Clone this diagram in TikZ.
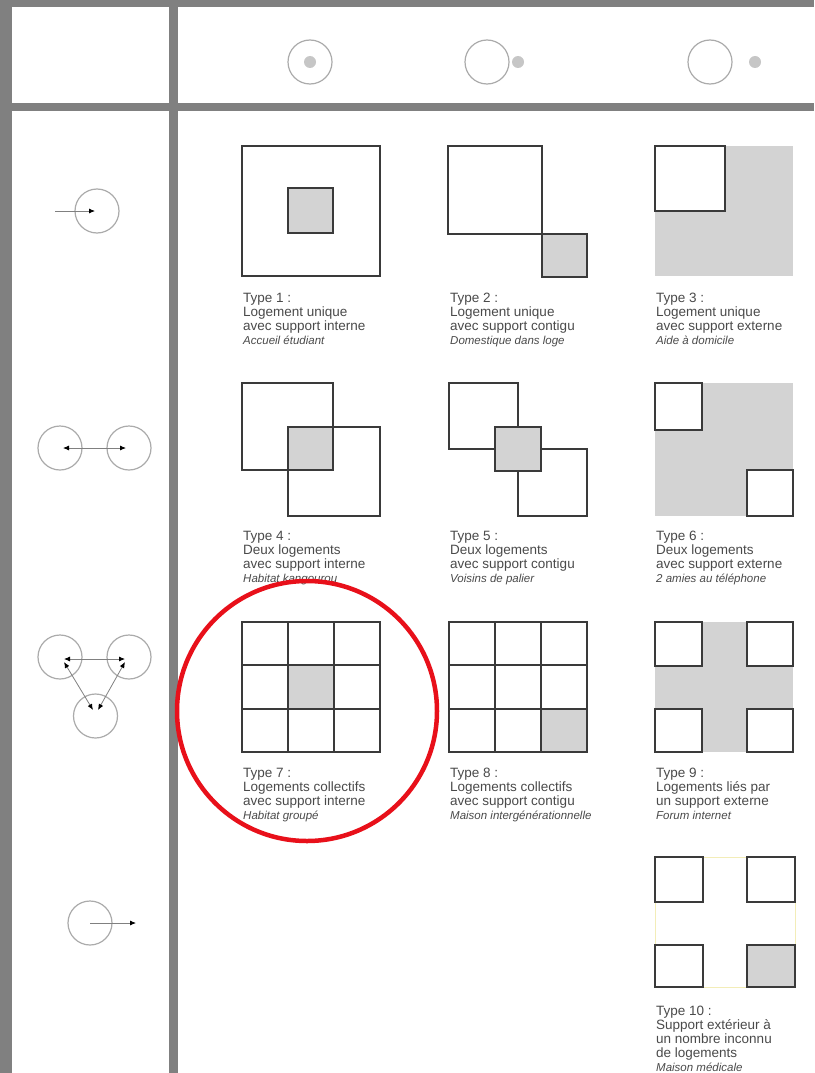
\documentclass[tikz,border=0pt]{standalone}
\usepackage{fontspec}
\newfontfamily\lab{Liberation Sans}
\usetikzlibrary{arrows.meta}
\definecolor{framegray}{HTML}{808080}
\definecolor{ink}{HTML}{3A3A3A}
\definecolor{lightfill}{HTML}{D3D3D3}
\definecolor{txt}{HTML}{4A4A4A}
\definecolor{ringgray}{HTML}{ABABAB}
\definecolor{dotgray}{HTML}{C6C6C6}
\definecolor{redmark}{HTML}{E8101A}
\definecolor{faint}{HTML}{F3EDB8}
\begin{document}
\begin{tikzpicture}[x=1pt,y=-1pt,
  sqbox/.style={draw=ink,line width=1.4pt},
  shbox/.style={draw=ink,fill=lightfill,line width=1.4pt},
  whitebox/.style={draw=ink,fill=white,line width=1.4pt},
  icon/.style={circle,draw=ringgray,line width=1.2pt,minimum size=44pt,inner sep=0pt},
  hdot/.style={circle,fill=dotgray,minimum size=12pt,inner sep=0pt},
  link/.style={draw=gray,line width=0.8pt},
  arrowend/.style={-{Latex[length=6pt,width=5pt,color=black]}},
  botharrow/.style={{Latex[length=6pt,width=5pt,color=black]}-{Latex[length=6pt,width=5pt,color=black]}},
  typetext/.style={anchor=north west,inner sep=0pt,align=left,text=txt,font=\lab\fontsize{13.5}{14}\selectfont},
]
\useasboundingbox (0,0) rectangle (814,1073);
\fill[white] (0,0) rectangle (814,1073);
% frame
\fill[framegray] (0,0) rectangle (814,7);
\fill[framegray] (0,0) rectangle (12,1073);
\fill[framegray] (169,0) rectangle (178,1073);
\fill[framegray] (0,103) rectangle (814,111);

% header icons
\node[icon] (h1) at (310,62) {};
\node[hdot] (d1) at (310,62) {};
\node[icon] (h2) at (487,62) {};
\node[hdot] (d2) at (518,62) {};
\node[icon] (h3) at (710,62) {};
\node[hdot] (d3) at (755,62) {};

% left icons
\node[icon] (s1) at (97,211) {};
\coordinate (s1in) at (55,211);
\coordinate (s1tip) at (95,211);
\draw[link,arrowend] (s1in) -- (s1tip);

\node[icon] (p1) at (60,448) {};
\node[icon] (p2) at (129,448) {};
\coordinate (p1e) at (63,448);
\coordinate (p2e) at (126,448);
\draw[link,botharrow] (p1e) -- (p2e);

\node[icon] (q1) at (60,657) {};
\node[icon] (q2) at (129,657) {};
\node[icon] (q3) at (95.5,716) {};
\coordinate (q1a) at (64,659);
\coordinate (q2a) at (125,659);
\coordinate (q1b) at (64,662);
\coordinate (q2b) at (125,662);
\coordinate (q3l) at (93,710);
\coordinate (q3r) at (98,710);
\draw[link,botharrow] (q1a) -- (q2a);
\draw[link,botharrow] (q1b) -- (q3l);
\draw[link,botharrow] (q2b) -- (q3r);

\node[icon] (o1) at (90,923) {};
\coordinate (o1out) at (136,923);
\draw[link,arrowend] (o1.center) -- (o1out);

% Type 1
\draw[sqbox] (242,146) rectangle (380,276);
\draw[shbox] (288,188) rectangle (333,233);
% Type 2
\draw[sqbox] (448,146) rectangle (542,234);
\draw[shbox] (542,234) rectangle (587,277);
% Type 3
\fill[lightfill] (655,146) rectangle (793,276);
\draw[whitebox] (655,146) rectangle (725,211);

% Type 4
\draw[sqbox] (242,383) rectangle (333,470);
\draw[sqbox] (288,427) rectangle (380,516);
\draw[shbox] (288,427) rectangle (333,470);
% Type 5
\draw[sqbox] (449,383) rectangle (518,449);
\draw[sqbox] (518,449) rectangle (587,516);
\draw[shbox] (495,427) rectangle (541,471);
% Type 6
\fill[lightfill] (655,383) rectangle (793,516);
\draw[whitebox] (655,383) rectangle (702,430);
\draw[whitebox] (747,470) rectangle (793,516);

% Type 7
\fill[lightfill] (288,665) rectangle (334,709);
\draw[sqbox] (242,622) rectangle (380,752);
\draw[sqbox] (288,622) -- (288,752) (334,622) -- (334,752)
             (242,665) -- (380,665) (242,709) -- (380,709);
% Type 8
\fill[lightfill] (541,709) rectangle (587,752);
\draw[sqbox] (449,622) rectangle (587,752);
\draw[sqbox] (495,622) -- (495,752) (541,622) -- (541,752)
             (449,665) -- (587,665) (449,709) -- (587,709);
% Type 9
\fill[lightfill] (655,622) rectangle (793,752);
\draw[whitebox] (655,622) rectangle (702,666);
\draw[whitebox] (747,622) rectangle (793,666);
\draw[whitebox] (655,709) rectangle (702,752);
\draw[whitebox] (747,709) rectangle (793,752);

% Type 10
\draw[faint,line width=0.6pt] (655,857) rectangle (795,987);
\draw[whitebox] (655,857) rectangle (703,902);
\draw[whitebox] (747,857) rectangle (795,902);
\draw[whitebox] (655,945) rectangle (703,987);
\draw[shbox] (747,945) rectangle (795,987);

% labels
\node[typetext] (l1) at (243,293) {Type 1 :\\Logement unique\\avec support interne\\{\fontsize{11.5}{14}\selectfont\itshape Accueil étudiant}};
\node[typetext] (l2) at (450,293) {Type 2 :\\Logement unique\\avec support contigu\\{\fontsize{11.5}{14}\selectfont\itshape Domestique dans loge}};
\node[typetext] (l3) at (656,293) {Type 3 :\\Logement unique\\avec support externe\\{\fontsize{11.5}{14}\selectfont\itshape Aide à domicile}};
\node[typetext] (l4) at (243,531) {Type 4 :\\Deux logements\\avec support interne\\{\fontsize{11.5}{14}\selectfont\itshape Habitat kangourou}};
\node[typetext] (l5) at (450,531) {Type 5 :\\Deux logements\\avec support contigu\\{\fontsize{11.5}{14}\selectfont\itshape Voisins de palier}};
\node[typetext] (l6) at (656,531) {Type 6 :\\Deux logements\\avec support externe\\{\fontsize{11.5}{14}\selectfont\itshape 2 amies au téléphone}};
\node[typetext] (l7) at (243,768) {Type 7 :\\Logements collectifs\\avec support interne\\{\fontsize{11.5}{14}\selectfont\itshape Habitat groupé}};
\node[typetext] (l8) at (450,768) {Type 8 :\\Logements collectifs\\avec support contigu\\{\fontsize{11.5}{14}\selectfont\itshape Maison intergénérationnelle}};
\node[typetext] (l9) at (656,768) {Type 9 :\\Logements liés par\\un support externe\\{\fontsize{11.5}{14}\selectfont\itshape Forum internet}};
\node[typetext] (l10) at (656,1006) {Type 10 :\\Support extérieur à\\un nombre inconnu\\de logements\\{\fontsize{11.5}{14}\selectfont\itshape Maison médicale}};

% red highlight
\node[circle,draw=redmark,line width=4.5pt,minimum size=260pt,inner sep=0pt] (mark) at (307,711) {};
\end{tikzpicture}
\end{document}
